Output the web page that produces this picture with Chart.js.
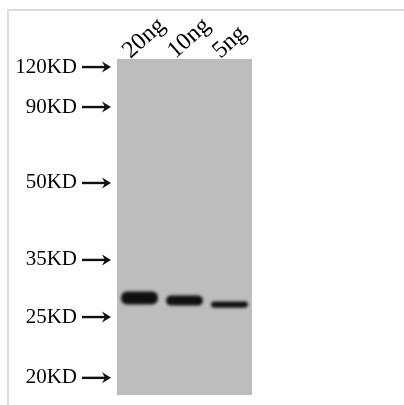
<!DOCTYPE html>
<html>
<head>
<meta charset="utf-8">
<script src="https://cdn.jsdelivr.net/npm/chart.js@4/dist/chart.umd.min.js"></script>
<style>
	body { margin: 0; background: #fff; }
	#wrap { position: relative; width: 404px; height: 405px; overflow: hidden; }
	#frame { position: absolute; left: 7px; top: 9px; width: 420px; height: 420px;
		border-top: 2px solid #dcdcdc; border-left: 2px solid #dcdcdc; }
	#chart { position: absolute; left: 0; top: 0; }
</style>
</head>
<body>
<div id="wrap">
	<div id="frame"></div>
	<canvas id="chart" width="404" height="405"></canvas>
</div>
<script>
// marker ladder (kDa) and where each one sits on the gel (0 = top, 1 = bottom)
var markerKD = [120, 90, 50, 35, 25, 20];
var markerMigration = [0.024, 0.143, 0.369, 0.598, 0.768, 0.949];

// lanes and the band found in each lane
var laneLabels = ['20ng', '10ng', '5ng'];
var bandTop = [0.692, 0.704, 0.722];
var bandBottom = [0.731, 0.734, 0.740];

var gelPlugin = {
	id: 'gel',
	beforeDraw: function(chart) {
		var a = chart.chartArea;
		var ctx = chart.ctx;
		ctx.save();
		ctx.fillStyle = '#bdbdbd';
		ctx.fillRect(a.left, a.top, a.right - a.left, a.bottom - a.top);
		ctx.restore();
	},
	beforeDatasetsDraw: function(chart) {
		chart.ctx.save();
		chart.ctx.filter = 'blur(1.5px)';
	},
	afterDatasetsDraw: function(chart) {
		chart.ctx.restore();
	},
	afterDraw: function(chart) {
		var y = chart.scales.y;
		var ctx = chart.ctx;
		var x1 = y.right - 35, x2 = y.right - 6;
		ctx.save();
		ctx.strokeStyle = '#111';
		ctx.fillStyle = '#111';
		ctx.lineWidth = 2.4;
		markerMigration.forEach(function(m) {
			var py = y.getPixelForValue(m);
			ctx.beginPath();
			ctx.moveTo(x1, py);
			ctx.lineTo(x2 - 4, py);
			ctx.stroke();
			ctx.beginPath();
			ctx.moveTo(x2, py);
			ctx.lineTo(x2 - 9, py - 5.5);
			ctx.lineTo(x2 - 6, py);
			ctx.lineTo(x2 - 9, py + 5.5);
			ctx.closePath();
			ctx.fill();
		});
		ctx.restore();
	}
};

new Chart(document.getElementById('chart'), {
	type: 'bar',
	data: {
		labels: laneLabels,
		datasets: [{
			data: laneLabels.map(function(l, i) { return [bandTop[i], bandBottom[i]]; }),
			backgroundColor: '#101010',
			borderRadius: 6,
			borderSkipped: false,
			barPercentage: 0.82,
			categoryPercentage: 1
		}]
	},
	options: {
		responsive: false,
		animation: false,
		layout: { padding: { left: 0, top: 0, right: 152, bottom: 10 } },
		plugins: { legend: { display: false }, tooltip: { enabled: false } },
		scales: {
			x: {
				type: 'category',
				position: 'top',
				offset: true,
				grid: { display: false, drawTicks: false },
				border: { display: false },
				ticks: {
					autoSkip: false,
					minRotation: 42,
					maxRotation: 42,
					padding: -6,
					labelOffset: 6,
					color: '#000',
					font: { family: 'Liberation Serif', size: 24 }
				},
				afterFit: function(s) { s.height = 59; }
			},
			y: {
				type: 'linear',
				min: 0,
				max: 1,
				reverse: true,
				grid: { display: false, drawTicks: false },
				border: { display: false },
				afterBuildTicks: function(s) {
					s.ticks = markerMigration.map(function(v) { return { value: v }; });
				},
				ticks: {
					padding: 40,
					color: '#000',
					font: { family: 'Liberation Serif', size: 21 },
					callback: function(v, i) { return markerKD[i] + 'KD'; }
				},
				afterFit: function(s) {
					s.width = 117;
					s.paddingTop = 0;
					s.paddingBottom = 0;
				}
			}
		}
	},
	plugins: [gelPlugin]
});
</script>
</body>
</html>
